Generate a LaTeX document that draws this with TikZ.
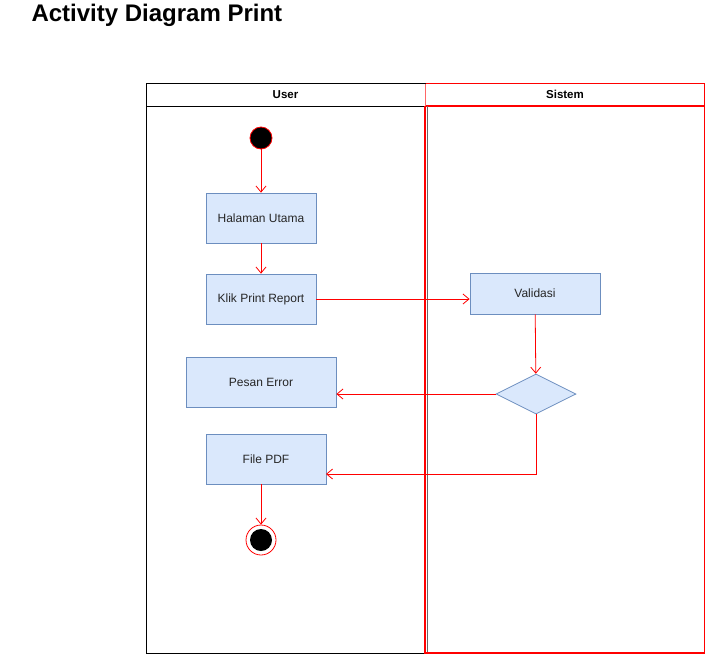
\documentclass[tikz,border=0pt]{standalone}
\usepackage{fontspec}
\setmainfont{Liberation Sans}
\usetikzlibrary{shapes.geometric,arrows.meta}
\definecolor{boxfill}{HTML}{DAE8FC}
\definecolor{boxdraw}{HTML}{6C8EBF}
\definecolor{flow}{HTML}{FF0000}
\begin{document}
\begin{tikzpicture}[x=1pt,y=-1pt,
  actbox/.style={draw=boxdraw,fill=boxfill,line width=0.8pt,inner sep=0pt,font=\fontsize{12}{14}\selectfont,text=black!85},
  flowline/.style={draw=flow,line width=0.8pt,-{Straight Barb[length=6pt,width=10pt,line width=0.8pt]}},
  hdr/.style={font=\bfseries\fontsize{11.5}{14}\selectfont}]
\useasboundingbox (0,0) rectangle (706,654);
\node[anchor=west,font=\bfseries\fontsize{24}{28}\selectfont] (title) at (28,15) {Activity Diagram Print};
% lanes
\draw[black,line width=0.8pt] (146,83) rectangle (425,106);
\node[hdr] (userh) at (285.5,94.5) {User};
\draw[black,line width=0.8pt] (146,106) -- (146,653) -- (425,653);
\draw[flow,line width=1.2pt] (425,106) -- (425,653) -- (704.5,653) -- (704.5,106);
\draw[flow,line width=1.4pt] (425.5,83.5) -- (704.5,83.5) -- (704.5,106) -- (425.5,106);
\draw[flow!60,line width=1pt] (425.5,83.5) -- (425.5,106);
\node[hdr] (sish) at (565,94.5) {Sistem};
\draw[black!60,line width=0.6pt] (427,106) -- (427,652);
% nodes
\node[circle,draw=flow,fill=black,minimum size=22pt,inner sep=0pt,line width=0.8pt] (start) at (261,138) {};
\node[actbox,minimum width=110pt,minimum height=50pt] (home) at (261,218) {Halaman Utama};
\node[actbox,minimum width=110pt,minimum height=50pt] (klik) at (261,299) {Klik Print Report};
\node[actbox,minimum width=130pt,minimum height=41pt] (val) at (535,293.5) {Validasi};
\node[diamond,aspect=2,draw=boxdraw,fill=boxfill,line width=0.8pt,minimum width=80pt,minimum height=40pt,inner sep=0pt] (dec) at (536,394) {};
\node[actbox,minimum width=150pt,minimum height=50pt] (err) at (261,382) {Pesan Error};
\node[actbox,minimum width=120pt,minimum height=50pt] (pdf) at (266,459) {File PDF};
\node[circle,draw=flow,fill=white,minimum size=30pt,inner sep=0pt,line width=0.8pt] (end) at (261,540) {};
\node[circle,fill=black,minimum size=22pt,inner sep=0pt] (endin) at (end.center) {};
% connectors
\draw[flowline] (start) -- (home);
\draw[flowline] (home) -- (klik);
\draw[flowline] (klik.east) -- (klik.east -| val.west);
\draw[flowline] (val) -- (dec);
\draw[flowline] (dec.west) -- (dec.west -| err.east);
\coordinate (pdfin) at (326,474);
\draw[flowline] (dec.south) |- (pdfin);
\draw[flowline] (pdf.south -| end.north) -- (end);
\end{tikzpicture}
\end{document}
